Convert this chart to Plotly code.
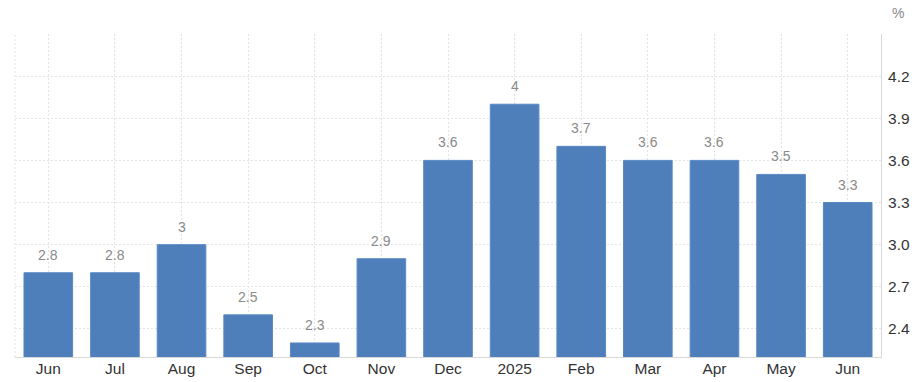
import plotly.graph_objects as go

categories = ["Jun", "Jul", "Aug", "Sep", "Oct", "Nov", "Dec", "2025", "Feb", "Mar", "Apr", "May", "Jun"]
values = [2.8, 2.8, 3.0, 2.5, 2.3, 2.9, 3.6, 4.0, 3.7, 3.6, 3.6, 3.5, 3.3]
value_labels = ["2.8", "2.8", "3", "2.5", "2.3", "2.9", "3.6", "4", "3.7", "3.6", "3.6", "3.5", "3.3"]
y_ticks = [2.4, 2.7, 3.0, 3.3, 3.6, 3.9, 4.2, 4.5]
y_tick_text = ["2.4", "2.7", "3.0", "3.3", "3.6", "3.9", "4.2", ""]

x = list(range(len(categories)))

fig = go.Figure(go.Bar(
    x=x, y=values,
    marker=dict(color="#4f7fbb", line=dict(color="#5a89c4", width=1)),
    hoverinfo="x+y",
))

grid = "#e4e4e4"
label_annotations = [
    dict(x=xi, y=v, text=t, xref="x", yref="y", showarrow=False,
         yanchor="bottom", yshift=8,
         font=dict(size=14, color="#8a8a8a"))
    for xi, v, t in zip(x, values, value_labels)
]

fig.update_layout(
    width=914, height=382,
    margin=dict(l=15, r=33, t=34, b=25),
    paper_bgcolor="white", plot_bgcolor="white",
    bargap=0.27,
    showlegend=False,
    font=dict(family="Liberation Sans, Arial", color="#333333"),
    xaxis=dict(
        tickvals=x, ticktext=categories, range=[-0.5, len(categories) - 0.5],
        showgrid=True, gridcolor=grid, griddash="2px,2px", gridwidth=1,
        showline=True, linecolor="#d8d8d8", linewidth=1,
        ticks="", tickfont=dict(size=15.5, color="#333333"),
        zeroline=False, automargin=False, ticklabelstandoff=-3,
    ),
    yaxis=dict(
        side="right", range=[2.2, 4.5],
        tickvals=y_ticks, ticktext=y_tick_text,
        showgrid=True, gridcolor=grid, griddash="2px,2px", gridwidth=1,
        showline=True, linecolor="#d8d8d8", linewidth=1,
        ticks="", tickfont=dict(size=15.5, color="#333333"),
        zeroline=False, ticklabelstandoff=3, automargin=False,
    ),
    annotations=label_annotations + [dict(
        text="%", xref="paper", yref="paper", x=1.0, y=1.0,
        xanchor="left", yanchor="bottom", xshift=9, yshift=11,
        showarrow=False, font=dict(size=14, color="#888888"),
    )],
    shapes=[dict(
        type="line", xref="paper", yref="paper", x0=0, x1=0, y0=0, y1=1,
        line=dict(color=grid, width=1, dash="2px,2px"),
    )],
)

fig.write_html("out.html")
